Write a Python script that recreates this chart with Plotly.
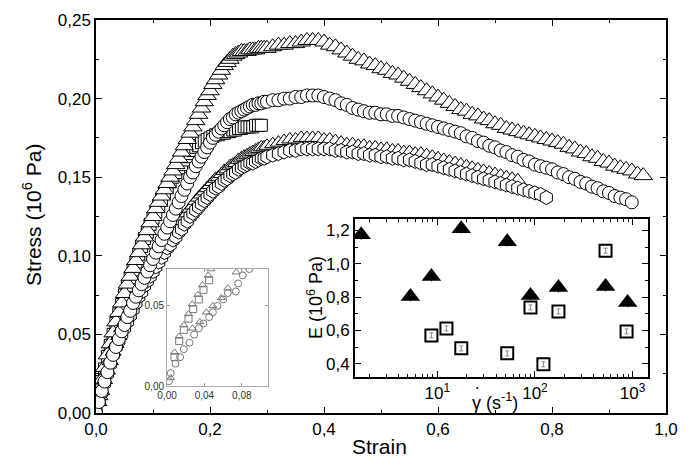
import plotly.graph_objects as go

# ---------------- main plot data (strain, stress in 10^6 Pa) ----------------
STRAIN_FINE = [0, 0.005, 0.01, 0.015, 0.02, 0.025, 0.03, 0.035, 0.04, 0.045, 0.05, 0.055, 0.06, 0.065,
               0.07, 0.075, 0.08, 0.085, 0.09, 0.095, 0.10, 0.105, 0.11, 0.115, 0.12, 0.125, 0.13, 0.135,
               0.14, 0.145, 0.15, 0.155, 0.16, 0.165, 0.17, 0.175, 0.18, 0.185, 0.19, 0.195, 0.20, 0.205,
               0.21, 0.215, 0.22, 0.225, 0.23, 0.235, 0.24, 0.245, 0.25, 0.255, 0.26, 0.265, 0.27, 0.275,
               0.28, 0.285, 0.29, 0.295, 0.30]
STRAIN_COARSE = [0.31, 0.32, 0.33, 0.34, 0.35, 0.36, 0.37, 0.38, 0.39, 0.40, 0.41, 0.42, 0.43, 0.44, 0.45,
                 0.46, 0.47, 0.48, 0.49, 0.50, 0.51, 0.52, 0.53, 0.54, 0.55, 0.56, 0.57, 0.58, 0.59, 0.60,
                 0.61, 0.62, 0.63, 0.64, 0.65, 0.66, 0.67, 0.68, 0.69, 0.70, 0.71, 0.72, 0.73, 0.74, 0.75,
                 0.76, 0.77, 0.78, 0.79, 0.80, 0.81, 0.82, 0.83, 0.84, 0.85, 0.86, 0.87, 0.88, 0.89, 0.90,
                 0.91, 0.92, 0.93, 0.94, 0.95, 0.96]

# triangles (upper curve)
A_stress = [0, 0.011, 0.021, 0.029, 0.037, 0.044, 0.051, 0.058, 0.064, 0.070, 0.076, 0.082, 0.087, 0.092,
            0.097, 0.102, 0.107, 0.112, 0.116, 0.121, 0.125, 0.130, 0.134, 0.138, 0.142, 0.146, 0.150, 0.154,
            0.158, 0.162, 0.166, 0.170, 0.174, 0.178, 0.182, 0.186, 0.190, 0.194, 0.198, 0.202, 0.205, 0.209,
            0.212, 0.215, 0.218, 0.221, 0.223, 0.225, 0.227, 0.228, 0.229, 0.230, 0.230, 0.230, 0.231, 0.231,
            0.231, 0.232, 0.232, 0.232, 0.232,
            0.233, 0.234, 0.234, 0.235, 0.235, 0.236, 0.237, 0.237, 0.237, 0.236, 0.234, 0.233, 0.231, 0.229, 0.227,
            0.225, 0.224, 0.222, 0.221, 0.219, 0.218, 0.216, 0.215, 0.213, 0.211, 0.209, 0.207, 0.205, 0.203, 0.201,
            0.199, 0.197, 0.195, 0.193, 0.192, 0.190, 0.189, 0.187, 0.186, 0.184, 0.183, 0.181, 0.180, 0.179, 0.178,
            0.177, 0.176, 0.175, 0.174, 0.173, 0.172, 0.171, 0.169, 0.168, 0.166, 0.165, 0.163, 0.162, 0.160, 0.159,
            0.157, 0.156, 0.155, 0.154, 0.152, 0.151]
# squares (short test ending near 0.29)
B_stress = [0, 0.011, 0.020, 0.028, 0.036, 0.043, 0.050, 0.057, 0.063, 0.069, 0.075, 0.081, 0.086, 0.091,
            0.096, 0.101, 0.106, 0.111, 0.115, 0.120, 0.124, 0.128, 0.132, 0.136, 0.140, 0.144, 0.147, 0.150,
            0.153, 0.156, 0.158, 0.161, 0.163, 0.165, 0.167, 0.169, 0.170, 0.172, 0.173, 0.174, 0.175, 0.176,
            0.177, 0.177, 0.178, 0.178, 0.179, 0.179, 0.180, 0.180, 0.181, 0.181, 0.182, 0.182, 0.182, 0.182,
            0.183, 0.183, 0.183]
# circles (middle curve)
C_stress = [0, 0.007, 0.014, 0.020, 0.026, 0.032, 0.037, 0.042, 0.047, 0.052, 0.056, 0.061, 0.065, 0.070,
            0.074, 0.078, 0.082, 0.086, 0.090, 0.094, 0.098, 0.102, 0.106, 0.110, 0.114, 0.118, 0.122, 0.126,
            0.130, 0.134, 0.138, 0.142, 0.146, 0.150, 0.153, 0.157, 0.160, 0.163, 0.166, 0.169, 0.172, 0.175,
            0.177, 0.179, 0.181, 0.183, 0.185, 0.187, 0.188, 0.190, 0.191, 0.192, 0.193, 0.194, 0.195, 0.196,
            0.196, 0.197, 0.197, 0.198, 0.198,
            0.199, 0.199, 0.200, 0.200, 0.201, 0.201, 0.202, 0.202, 0.202, 0.201, 0.200, 0.199, 0.197, 0.196, 0.194,
            0.193, 0.192, 0.191, 0.191, 0.190, 0.190, 0.189, 0.189, 0.188, 0.187, 0.186, 0.185, 0.184, 0.183, 0.182,
            0.181, 0.180, 0.179, 0.178, 0.176, 0.175, 0.173, 0.172, 0.170, 0.169, 0.167, 0.166, 0.164, 0.163, 0.161,
            0.160, 0.158, 0.157, 0.156, 0.155, 0.153, 0.152, 0.150, 0.149, 0.147, 0.146, 0.144, 0.143, 0.141, 0.140,
            0.138, 0.137, 0.136, 0.134]
# hexagons (lowest curve)
D_stress = [0, 0.007, 0.013, 0.019, 0.025, 0.031, 0.037, 0.042, 0.046, 0.050, 0.054, 0.058, 0.062, 0.066,
            0.070, 0.074, 0.077, 0.081, 0.084, 0.087, 0.090, 0.093, 0.096, 0.099, 0.102, 0.105, 0.107, 0.110,
            0.112, 0.115, 0.117, 0.120, 0.122, 0.125, 0.127, 0.129, 0.131, 0.133, 0.135, 0.137, 0.139, 0.141,
            0.143, 0.144, 0.146, 0.148, 0.149, 0.151, 0.152, 0.153, 0.155, 0.156, 0.157, 0.158, 0.159, 0.159,
            0.160, 0.161, 0.162, 0.162, 0.163,
            0.164, 0.165, 0.166, 0.167, 0.167, 0.168, 0.168, 0.168, 0.168, 0.168, 0.168, 0.167, 0.167, 0.166, 0.166,
            0.165, 0.165, 0.164, 0.164, 0.163, 0.163, 0.162, 0.162, 0.161, 0.161, 0.160, 0.159, 0.158, 0.158, 0.157,
            0.156, 0.155, 0.154, 0.153, 0.152, 0.151, 0.150, 0.149, 0.148, 0.147, 0.146, 0.145, 0.144, 0.143, 0.142,
            0.141, 0.140, 0.139, 0.137]
# triangles (lower band, upper edge)
E_stress = [0, 0.007, 0.014, 0.021, 0.027, 0.033, 0.039, 0.044, 0.049, 0.054, 0.058, 0.062, 0.066, 0.070,
            0.074, 0.078, 0.081, 0.085, 0.088, 0.091, 0.094, 0.097, 0.100, 0.103, 0.106, 0.109, 0.112, 0.115,
            0.117, 0.120, 0.122, 0.125, 0.127, 0.130, 0.132, 0.135, 0.137, 0.139, 0.141, 0.143, 0.145, 0.147,
            0.149, 0.150, 0.152, 0.154, 0.155, 0.157, 0.158, 0.159, 0.161, 0.162, 0.163, 0.164, 0.165, 0.166,
            0.167, 0.168, 0.169, 0.169, 0.170,
            0.171, 0.172, 0.173, 0.174, 0.174, 0.175, 0.175, 0.175, 0.175, 0.174, 0.174, 0.173, 0.172, 0.171, 0.171,
            0.170, 0.170, 0.169, 0.169, 0.168, 0.168, 0.167, 0.167, 0.166, 0.166, 0.165, 0.165, 0.164, 0.163, 0.162,
            0.161, 0.160, 0.159, 0.158, 0.157, 0.156, 0.155, 0.154, 0.153, 0.152, 0.151, 0.150, 0.149, 0.148]

A_strain = STRAIN_FINE + STRAIN_COARSE
B_strain = STRAIN_FINE[:len(B_stress)]
C_strain = (STRAIN_FINE + STRAIN_COARSE)[:len(C_stress)]
D_strain = (STRAIN_FINE + STRAIN_COARSE)[:len(D_stress)]
E_strain = (STRAIN_FINE + STRAIN_COARSE)[:len(E_stress)]

# ---------------- inset: modulus E vs strain rate ----------------
tri_rate = [1.66, 5.3, 8.7, 17.6, 52, 90, 174, 528, 889]
tri_E = [1.175, 0.804, 0.923, 1.211, 1.133, 0.81, 0.857, 0.863, 0.768]
tri_err = [0.03, 0.03, 0.03, 0.03, 0.03, 0.03, 0.03, 0.03, 0.03]
sq_rate = [8.7, 12.4, 17.6, 52, 90, 122, 174, 528, 867]
sq_E = [0.57, 0.612, 0.492, 0.462, 0.738, 0.396, 0.714, 1.079, 0.594]
sq_err = [0.015, 0.015, 0.015, 0.015, 0.015, 0.015, 0.015, 0.015, 0.015]

# ---------------- inset: initial region ----------------
s_tri1_x = [0.004, 0.008, 0.013, 0.018, 0.023, 0.027, 0.033, 0.038, 0.044, 0.047]
s_tri1_y = [0.005, 0.021, 0.031, 0.038, 0.045, 0.051, 0.057, 0.063, 0.069, 0.073]
s_sq_x = [0.008, 0.013, 0.018, 0.023, 0.028, 0.034, 0.039, 0.045]
s_sq_y = [0.018, 0.028, 0.035, 0.042, 0.048, 0.054, 0.060, 0.066]
s_circ_x = [0.002, 0.004, 0.009, 0.014, 0.018, 0.024, 0.029, 0.034, 0.039, 0.045, 0.049, 0.054, 0.060,
            0.065, 0.0735, 0.076, 0.081, 0.088]
s_circ_y = [0.003, 0.008, 0.014, 0.018, 0.023, 0.027, 0.032, 0.036, 0.039, 0.043, 0.046, 0.050, 0.054,
            0.058, 0.059, 0.064, 0.069, 0.073]
s_tri2_x = [0.027, 0.035, 0.042, 0.049, 0.058, 0.065, 0.074]
s_tri2_y = [0.036, 0.040, 0.046, 0.050, 0.055, 0.061, 0.071]

FONT = "Liberation Sans, Arial, sans-serif"

fig = go.Figure()


def main_trace(x, y, symbol, size):
    fig.add_trace(go.Scatter(
        x=x, y=y, mode="markers", xaxis="x", yaxis="y",
        marker=dict(symbol=symbol, size=size, color="white",
                    line=dict(color="black", width=1)),
        showlegend=False, hoverinfo="skip"))


main_trace(B_strain, B_stress, "square", 12)
main_trace(A_strain, A_stress, "triangle-up", 16)
main_trace(E_strain, E_stress, "triangle-up", 14)
main_trace(D_strain, D_stress, "hexagon", 14)
main_trace(C_strain, C_stress, "circle", 13)

# inset E vs rate
fig.add_trace(go.Scatter(
    x=tri_rate, y=tri_E, mode="markers", xaxis="x2", yaxis="y2",
    marker=dict(symbol="triangle-up", size=17, color="black"),
    error_y=dict(type="data", array=tri_err, color="#555", thickness=1, width=0),
    showlegend=False, hoverinfo="skip"))
fig.add_trace(go.Scatter(
    x=sq_rate, y=sq_E, mode="markers", xaxis="x2", yaxis="y2",
    marker=dict(symbol="square-open", size=12, color="black", line=dict(width=2)),
    error_y=dict(type="data", array=sq_err, color="#888", thickness=1, width=2),
    showlegend=False, hoverinfo="skip"))

# small inset
for xs, ys, sym in [(s_tri1_x, s_tri1_y, "triangle-up-open"), (s_sq_x, s_sq_y, "square-open"),
                    (s_circ_x, s_circ_y, "circle-open"), (s_tri2_x, s_tri2_y, "triangle-up-open")]:
    fig.add_trace(go.Scatter(
        x=xs, y=ys, mode="markers", xaxis="x3", yaxis="y3",
        marker=dict(symbol=sym, size=7, color="#777", line=dict(width=1)),
        showlegend=False, hoverinfo="skip"))

axis_common = dict(showgrid=False, zeroline=False, showline=True, mirror="ticks",
                   ticks="inside", tickcolor="black", linecolor="black")

minor_log = [m * 10 ** k for k in range(0, 4) for m in range(2, 10)]
minor_log = [v for v in minor_log if 1.4 < v < 1430]

fig.update_layout(
    width=692, height=465,
    margin=dict(l=96, r=26, t=20, b=52),
    paper_bgcolor="white", plot_bgcolor="white",
    separators=", ",
    font=dict(family=FONT, color="black", size=17),
    xaxis=dict(**axis_common, range=[0, 1.0], dtick=0.2, tick0=0, tickformat=".1f",
               ticklen=6, linewidth=1.5, tickwidth=1.2, tickfont=dict(size=17),
               minor=dict(ticks="inside", ticklen=3.5, dtick=0.1, tickcolor="black"),
               domain=[0, 1]),
    yaxis=dict(**axis_common, range=[0, 0.25], dtick=0.05, tick0=0, tickformat=".2f",
               ticklen=6, linewidth=1.5, tickwidth=1.2, tickfont=dict(size=17),
               minor=dict(ticks="inside", ticklen=3.5, dtick=0.025, tickcolor="black"),
               domain=[0, 1]),
    xaxis2=dict(**axis_common, type="log", range=[0.155, 3.155], anchor="y2",
                domain=[0.454, 0.968], tickvals=[10, 100, 1000],
                ticktext=["10<sup>1</sup>", "10<sup>2</sup>", "10<sup>3</sup>"],
                ticklen=6, linewidth=1.5, tickfont=dict(size=17),
                minor=dict(ticks="inside", ticklen=3, tickvals=minor_log, tickcolor="black")),
    yaxis2=dict(**axis_common, range=[0.32, 1.27], anchor="x2", domain=[0.0916, 0.494],
                dtick=0.2, tick0=0.4, tickformat=".1f", ticklen=6, linewidth=1.5,
                tickfont=dict(size=17),
                minor=dict(ticks="inside", ticklen=3, dtick=0.1, tickcolor="black")),
    xaxis3=dict(showgrid=False, zeroline=False, showline=True, mirror="ticks", ticks="inside",
                tickcolor="#999", linecolor="#aaa", linewidth=1, ticklen=3,
                range=[0, 0.108], dtick=0.04, tick0=0, tickformat=".2f", anchor="y3",
                domain=[0.1246, 0.3018], tickfont=dict(size=10, color="#333")),
    yaxis3=dict(showgrid=False, zeroline=False, showline=True, mirror="ticks", ticks="inside",
                tickcolor="#999", linecolor="#aaa", linewidth=1, ticklen=3,
                range=[0, 0.073], dtick=0.05, tick0=0, tickformat=".2f", anchor="x3",
                domain=[0.0687, 0.3664], tickfont=dict(size=10, color="#333")),
    annotations=[
        dict(text="Strain", x=0.498, y=-0.0865, xref="paper", yref="paper",
             showarrow=False, font=dict(size=21), xanchor="center", yanchor="middle"),
        dict(text="Stress (10<sup>6</sup> Pa)", x=-0.1123, y=0.504, xref="paper", yref="paper",
             showarrow=False, font=dict(size=21), textangle=-90, xanchor="center", yanchor="middle"),
        dict(text="E (10<sup>6</sup> Pa)", x=0.384, y=0.295, xref="paper", yref="paper",
             showarrow=False, font=dict(size=18), textangle=-90, xanchor="center", yanchor="middle"),
        dict(text="\u03b3 (s<sup>-1</sup>)", x=0.700, y=0.030, xref="paper", yref="paper",
             showarrow=False, font=dict(size=18), xanchor="center", yanchor="middle"),
        dict(text="\u2022", x=0.6685, y=0.066, xref="paper", yref="paper",
             showarrow=False, font=dict(size=7), xanchor="center", yanchor="middle"),
    ],
)

fig.write_html("out.html")
